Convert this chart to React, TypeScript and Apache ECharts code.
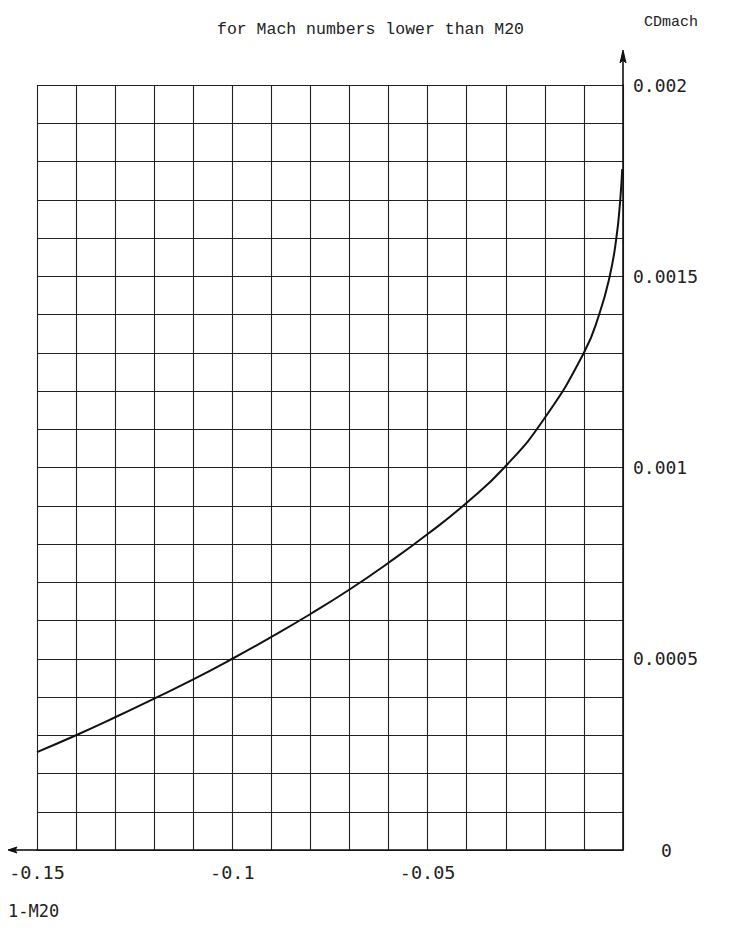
import React, { useEffect, useRef } from "react";
import * as echarts from "echarts";

const titleText = "for Mach numbers lower than M20";
const yName = "CDmach";
const xName = "1-M20";

// 1-M20 values (x) and CDmach values (y)
const xValues = [
  -0.15, -0.14, -0.13, -0.12, -0.11, -0.1, -0.09, -0.08, -0.07, -0.06, -0.05,
  -0.04, -0.03, -0.02, -0.01, -0.0061, -0.0034, -0.0017, -0.0007, -0.0002,
];
const yValues = [
  0.000256, 0.0003, 0.000347, 0.000396, 0.000446, 0.0005, 0.000557, 0.000617,
  0.000681, 0.000751, 0.000826, 0.000908, 0.001004, 0.00113, 0.0013, 0.0014,
  0.0015, 0.0016, 0.0017, 0.00178,
];

const xMin = -0.15;
const xMax = 0;
const xStep = 0.01;
const yMin = 0;
const yMax = 0.002;
const yStep = 0.0001;

const plotFont = "DejaVu Sans Mono";
const typeFont = "Liberation Mono";

export default function App() {
  const ref = useRef<HTMLDivElement>(null);

  useEffect(() => {
    if (!ref.current) return;
    const chart = echarts.init(ref.current, undefined, { renderer: "svg" });
    const data = xValues.map((x, i) => [x, yValues[i]]);
    chart.setOption({
      animation: false,
      backgroundColor: "#ffffff",
      title: [
        {
          text: titleText,
          left: 212,
          top: 16,
          textStyle: { fontFamily: typeFont, fontSize: 16.5, fontWeight: "normal", color: "#222" },
        },
        {
          text: yName,
          left: 639,
          top: 10,
          textStyle: { fontFamily: typeFont, fontSize: 15, fontWeight: "normal", color: "#222" },
        },
        {
          text: xName,
          left: 3,
          top: 897,
          textStyle: { fontFamily: plotFont, fontSize: 17, fontWeight: "normal", color: "#222" },
        },
      ],
      grid: { left: 37, right: 130, top: 85, bottom: 83, containLabel: false },
      xAxis: {
        type: "value",
        min: xMin,
        max: xMax,
        interval: xStep,
        axisLine: { show: true, onZero: false, lineStyle: { color: "#111", width: 1.6 } },
        axisTick: { show: false },
        splitLine: { show: true, lineStyle: { color: "#222", width: 1.1 } },
        axisLabel: {
          margin: 13,
          fontFamily: plotFont,
          fontSize: 18.5,
          color: "#222",
          showMinLabel: true,
          showMaxLabel: true,
          formatter: (v: number) => {
            const k = Math.round(v * 100);
            if (k === 0 || k % 5 !== 0) return "";
            return String(k / 100);
          },
        },
      },
      yAxis: {
        type: "value",
        position: "right",
        min: yMin,
        max: yMax,
        interval: yStep,
        axisLine: { show: true, lineStyle: { color: "#111", width: 1.6 } },
        axisTick: { show: false },
        splitLine: { show: true, lineStyle: { color: "#222", width: 1.1 } },
        axisLabel: {
          margin: 10,
          fontFamily: plotFont,
          fontSize: 18,
          color: "#222",
          showMinLabel: true,
          showMaxLabel: true,
          formatter: (v: number) => {
            const k = Math.round(v * 10000);
            if (k === 0) return "{z|0}";
            if (k % 5 !== 0) return "";
            return String(k / 10000);
          },
          rich: {
            z: { fontFamily: plotFont, fontSize: 18, color: "#222", padding: [0, 0, 0, 28] },
          },
        },
      },
      graphic: [
        {
          type: "line",
          shape: { x1: 9, y1: 850, x2: 37, y2: 850 },
          style: { stroke: "#111", lineWidth: 1.6 },
        },
        {
          type: "polygon",
          shape: { points: [[8, 850], [17, 847], [15, 850], [17, 853]] },
          style: { fill: "#111", stroke: "#111", lineWidth: 1 },
        },
        {
          type: "line",
          shape: { x1: 623, y1: 85, x2: 623, y2: 52 },
          style: { stroke: "#111", lineWidth: 1.6 },
        },
        {
          type: "polygon",
          shape: { points: [[623, 50], [620, 63], [623, 60], [626, 63]] },
          style: { fill: "#111", stroke: "#111", lineWidth: 1 },
        },
      ],
      series: [
        {
          type: "line",
          data,
          smooth: 0.5,
          showSymbol: false,
          symbol: "none",
          lineStyle: { color: "#111", width: 2 },
        },
      ],
    });
    return () => chart.dispose();
  }, []);

  return (
    <div
      ref={ref}
      style={{ position: "absolute", left: 0, top: 0, width: 753, height: 933, background: "#fff" }}
    />
  );
}
